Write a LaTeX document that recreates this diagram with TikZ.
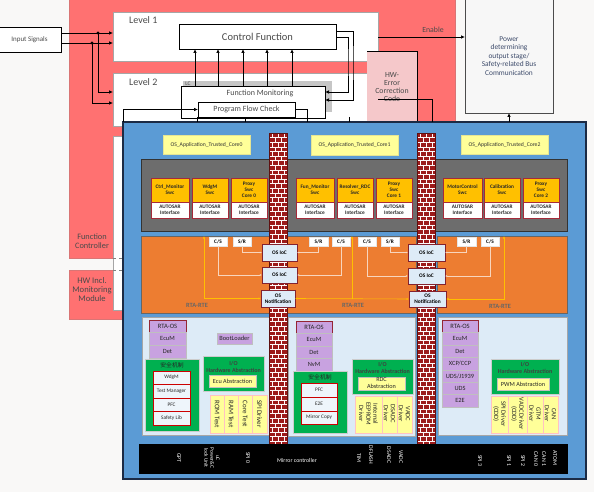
\documentclass[tikz,border=0pt]{standalone}
\usepackage{fontspec}
\setmainfont{Carlito}
\newfontfamily\cjk{Noto Sans CJK SC}
\usetikzlibrary{arrows.meta}
\definecolor{bgc}{HTML}{F9F8F7}
\definecolor{fcred}{HTML}{FF7171}
\definecolor{hwpink}{HTML}{F5C8CA}
\definecolor{blu}{HTML}{5B9BD5}
\definecolor{bluedge}{HTML}{1C2B45}
\definecolor{gpanel}{HTML}{6D6D6D}
\definecolor{swcor}{HTML}{FFC000}
\definecolor{dkred}{HTML}{A52A3A}
\definecolor{rtec}{HTML}{ED7D31}
\definecolor{bswbg}{HTML}{DDEBF7}
\definecolor{purp}{HTML}{C8A2E0}
\definecolor{grn}{HTML}{00B050}
\definecolor{ylw}{HTML}{FFFF99}
\definecolor{brickc}{HTML}{9C1A1A}
\definecolor{txtg}{HTML}{4A4A4A}
\definecolor{iocbg}{HTML}{DEEBF7}
\definecolor{lnk}{HTML}{F8D5BD}
\definecolor{sigc}{HTML}{FFC000}
\definecolor{pwrtxt}{HTML}{3C4A6A}
\newcommand\fsz[2]{\fontsize{#1}{#2}\selectfont}
\newcommand\bx[7]{\node[#2, anchor=north west, minimum width={(#5)-(#3)}, minimum height={(#6)-(#4)}] (#1) at (#3,#4) {#7};}
\newcommand\brickwall[4]{%
  \fill[brickc] (#1,#2) rectangle (#3,#4);
  \begin{scope}
  \clip (#1,#2) rectangle (#3,#4);
  \pgfmathtruncatemacro\nrows{((#4)-(#2))/4.6}
  \foreach \r in {0,...,\nrows}{%
    \pgfmathsetmacro\yy{#2+\r*4.6}
    \pgfmathsetmacro\yb{\yy+4.6}
    \pgfmathsetmacro\xo{#1+3+3*mod(\r,2)}
    \draw[mortar] (#1,\yy) -- (#3,\yy);
    \draw[mortar] (\xo,\yy) -- (\xo,\yb) (\xo+6,\yy) -- (\xo+6,\yb) (\xo+12,\yy) -- (\xo+12,\yb);
  }
  \end{scope}
  \draw[brickedge] (#1,#2) rectangle (#3,#4);}
\begin{document}
\begin{tikzpicture}[x=1pt,y=-1pt,
  b/.style={inner sep=0pt, outer sep=0pt, align=center},
  arr/.style={-{Latex[length=4pt,width=3.5pt]}, line width=0.7pt},
  ln/.style={line width=0.7pt},
  lbl/.style={align=center, inner sep=0pt, text=txtg},
  osapp/.style={b, fill=ylw, draw=ylw!80!gray, line width=0.3pt, font=\fsz{5.7}{6.5}, text=black!80},
  gpan/.style={b, fill=gpanel, draw=black!80, line width=0.6pt},
  swctop/.style={b, fill=swcor, draw=dkred, line width=0.6pt, font=\bfseries\fsz{5.3}{6.3}, text=black!85},
  swcbot/.style={b, fill=white, draw=dkred, line width=0.6pt, font=\bfseries\fsz{5.3}{6.3}, text=black!85},
  rtep/.style={b, fill=rtec, draw=black!60, line width=0.5pt},
  port/.style={b, fill=white, draw=white!80!gray, line width=0.3pt, font=\bfseries\fsz{5.3}{6}},
  ioc/.style={b, fill=iocbg, draw=dkred!80!black, line width=0.9pt, font=\bfseries\fsz{5.4}{6.2}},
  bswp/.style={b, fill=bswbg, draw=gray!70, line width=0.6pt},
  rtaos/.style={b, fill=purp, draw=dkred!90!black, line width=0.9pt, font=\fsz{6.6}{7.5}, text=black!85},
  purpb/.style={b, fill=purp, draw=gray!50, line width=0.5pt, font=\fsz{6.4}{7.2}, text=black!85},
  grnb/.style={b, fill=grn, draw=gray!40, line width=0.6pt},
  safi/.style={b, fill=bswbg!50!white, draw=red!80!black, line width=0.9pt, font=\fsz{5.3}{6}, text=black!85},
  ylwb/.style={b, fill=ylw, draw=gray!50, line width=0.4pt, font=\fsz{6.2}{7}, text=black!85},
  drvb/.style={b, fill=ylw, draw=pink!70!red!50, line width=0.8pt},
  sep/.style={draw=pink!70!red!50, line width=0.6pt},
  rot/.style={rotate=-90, align=center, inner sep=0pt, font=\fsz{7}{7.5}, text=black!85},
  rot3/.style={rotate=-90, align=center, inner sep=0pt, font=\fsz{6.5}{7.1}, text=black!85},
  hwt/.style={rotate=-90, align=center, inner sep=0pt, font=\fsz{5.8}{6.2}, text=white},
  lk/.style={draw=lnk, line width=0.6pt, -{Latex[length=2.2pt,width=2pt]}},
  sg/.style={draw=sigc, line width=0.6pt},
  mortar/.style={draw=white!90!pink, line width=0.6pt},
  brickedge/.style={draw=brickc!60!black, line width=0.6pt},
  cjkt/.style={inner sep=0pt, font=\cjk\fsz{5.8}{6.5}, text=black!85},
  ioht/.style={inner sep=0pt, align=center, font=\bfseries\fsz{6}{6.8}, text=black!75}
]
\useasboundingbox (0,0) rectangle (594,492);
\fill[bgc] (0,0) rectangle (594,492);

% function controller region
\bx{fc}{b, fill=fcred, draw=fcred!70!gray}{69}{-1}{455}{258}{}
\bx{hwm}{b, fill=fcred, draw=fcred!70!gray}{69}{270}{130}{319}{}
\node[lbl, font=\fsz{8.3}{9}] (fctxt) at (92,241.5) {Function\\Controller};
\node[lbl, font=\fsz{8.6}{8.6}] (hwtxt) at (92,289.5) {HW Incl.\\Monitoring\\Module};

% levels
\bx{lv1}{b, fill=white, draw=gray!70}{113}{12}{378}{61}{}
\node[anchor=west, inner sep=0pt, font=\fsz{10}{11}, text=txtg] (lv1t) at (129,20) {Level 1};
\bx{lv2}{b, fill=white, draw=gray!70}{113}{73}{370}{126}{}
\node[anchor=west, inner sep=0pt, font=\fsz{10}{11}, text=txtg] (lv2t) at (129,82) {Level 2};
\bx{lv3}{b, fill=white, draw=gray!70}{113}{136}{135}{310}{}
\draw[dashed, gray, line width=0.4pt] (lv3.west |- 0,258) -- (123,258);
\draw[dashed, gray, line width=0.4pt] (lv3.west |- 0,270) -- (123,270);

% HW error correction
\bx{hwe}{b, fill=hwpink}{367}{51}{417}{130}{}
\draw[ln] (hwe.north west) -- (hwe.north east) -- (hwe.south east);
\node[lbl, font=\fsz{7.8}{8.3}] (hwetxt) at (392,87) {HW-\\Error\\Correction\\Code};

% top boxes
\bx{cf}{b, fill=white, draw=black, line width=0.6pt, font=\fsz{10.5}{12}, text=txtg}{179}{24}{336}{49}{Control Function}
\bx{insig}{b, fill=white, draw=black, line width=0.6pt, font=\fsz{7}{8}, text=txtg}{-2}{27}{61}{52}{Input Signals}
\bx{lcsh}{b, fill=gray!45}{183}{81}{332}{112}{}
\node[inner sep=0pt, font=\fsz{5.5}{6}, text=txtg] (lct) at (188,83.5) {LC};
\bx{fm}{b, fill=white, draw=black, line width=0.6pt}{181}{86}{325}{118}{}
\node[inner sep=0pt, font=\fsz{8}{9}, text=txtg] (fmt) at (260,93.5) {Function Monitoring};
\bx{pfc}{b, fill=white, draw=black, line width=0.6pt, font=\fsz{8}{9}, text=txtg}{198}{102}{295}{117}{Program Flow Check}
\bx{pwr}{b, fill=gray!6, draw=black!70, line width=0.6pt}{465}{-2}{553}{113}{}
\node[inner sep=0pt, align=center, font=\fsz{7.4}{8.5}, text=pwrtxt] (pwrt) at (509,56) {Power\\determining\\output stage/\\Safety-related Bus\\Communication};

% blue ECU box
\bx{blue}{b, fill=blu, draw=bluedge, line width=1.5pt}{123}{122}{586}{479}{}

% connectors on top
\draw[arr] (insig.east |- 0,33) -- (lv1.west |- 0,33);
\draw[arr] (insig.east |- 0,43) -- (lv1.west |- 0,43);
\coordinate (d1) at (98,33);
\coordinate (d2) at (92,43);
\fill (d1) circle (1.7);
\fill (d2) circle (1.7);
\draw[arr] (d1) |- (lv2.west |- 0,92);
\draw[arr] (d2) |- (lv2.west |- 0,103);
\foreach \xx in {195,218,243,267,292}{\draw[arr] (\xx,0 |- fm.north) -- (\xx,0 |- cf.south);}
\draw[arr] (cf.east |- 0,31) -| (353,60) |- (fm.east |- 0,100);
\draw[arr] (cf.east |- 0,37) -| (348,60) |- (fm.east |- 0,92);
\draw[arr] (lv1.east |- 0,37) -- (pwr.west |- 0,37);
\node[inner sep=0pt, font=\fsz{7.8}{8.5}, text=txtg] (enab) at (433,30) {Enable};
\draw[arr] (pwr.south |- blue.north) -- (pwr.south);
\draw[ln] (pfc.east) -| (307,0 |- blue.north);
\draw[arr] (blue.north west) |- (pfc.west);
\coordinate (hwc) at (378,99);
\draw[ln] (hwc) -| (432,0 |- blue.north);
\draw[ln] (197,0 |- pfc.south) -- (197,0 |- blue.north);
\draw[ln] (245,0 |- fm.south) -- (245,0 |- blue.north);
\draw[ln] (349,117) -- (349,0 |- blue.north);

% OS applications
\bx{app0}{osapp}{163}{135}{250}{154}{OS\_Application\_Trusted\_Core0}
\bx{app1}{osapp}{311}{135}{398}{155}{OS\_Application\_Trusted\_Core1}
\bx{app2}{osapp}{461}{135}{548}{154}{OS\_Application\_Trusted\_Core2}

% SWC panels
\bx{gp0}{gpan}{141}{159}{272}{231}{}
\bx{gp1}{gpan}{287}{159}{418}{231}{}
\bx{gp2}{gpan}{434}{159}{567}{231}{}
\newcommand\swc[4]{\bx{#1}{swctop}{#2}{178}{#3}{202}{#4}\bx{#1i}{swcbot}{#2}{202}{#3}{218}{AUTOSAR\\Interface}}
\swc{ctrl}{151}{189}{Ctrl\_Monitor\\Swc}
\swc{wdgs}{192}{228}{WdgM\\Swc}
\swc{prx0}{231}{267}{Proxy\\Swc\\Core 0}
\swc{funm}{296}{334}{Fun\_Monitor\\Swc}
\swc{resv}{337}{373}{Resolver\_RDC\\Swc}
\swc{prx1}{376}{412}{Proxy\\Swc\\Core 1}
\swc{motc}{443}{482}{MotorControl\\Swc}
\swc{cali}{484}{520}{Calibration\\Swc}
\swc{prx2}{523}{559}{Proxy\\Swc\\Core 2}

% RTE
\bx{rte0}{rtep}{141}{236}{272}{313}{}
\bx{rte1}{rtep}{287}{236}{416}{313}{}
\bx{rte2}{rtep}{437}{236}{567}{313}{}
\node[inner sep=0pt, font=\bfseries\fsz{6.4}{7}, text=black!60] (rtl0) at (197,305) {RTA-RTE};
\node[inner sep=0pt, font=\bfseries\fsz{6.4}{7}, text=black!60] (rtl1) at (353,305) {RTA-RTE};
\node[inner sep=0pt, font=\bfseries\fsz{6.4}{7}, text=black!60] (rtl2) at (500,306) {RTA-RTE};
\bx{cs0}{port}{209}{237}{227}{246}{C/S}
\bx{sr0}{port}{233}{237}{251}{246}{S/R}
\bx{sr1a}{port}{309}{237}{328}{246}{S/R}
\bx{cs1a}{port}{332}{237}{350}{246}{C/S}
\bx{cs1b}{port}{358}{237}{376}{246}{C/S}
\bx{sr1b}{port}{381}{237}{399}{246}{S/R}
\bx{sr2}{port}{457}{237}{476}{246}{S/R}
\bx{cs2}{port}{481}{237}{499}{246}{C/S}

% BSW panels
\bx{bsw0}{bswp}{142}{317}{272}{435}{}
\bx{bsw1}{bswp}{288}{317}{415}{436}{}
\bx{bsw2}{bswp}{438}{317}{567}{435}{}

% walls
\brickwall{269}{133}{287}{444}
\brickwall{417}{133}{435}{444}

% IoC
\bx{ioc0a}{ioc}{262}{244}{297}{261}{OS IoC}
\bx{ioc0b}{ioc}{262}{267}{297}{283}{OS IoC}
\bx{not0}{ioc}{261}{290}{295}{307}{OS\\Notification}
\bx{ioc1a}{ioc}{408}{244}{445}{261}{OS IoC}
\bx{ioc1b}{ioc}{408}{268}{445}{284}{OS IoC}
\bx{not1}{ioc}{409}{291}{446}{307}{OS\\Notification}
\draw[lk] (sr0.south) |- (ioc0a.west);
\draw[lk] (cs0.south) |- (ioc0b.west);
\draw[lk] (sr1a.south) |- (ioc0a.east);
\draw[lk] (cs1a.south) |- (ioc0b.east);
\draw[lk] (cs1b.south) |- (ioc1b.west);
\draw[lk] (sr1b.south) |- (ioc1a.west);
\draw[lk] (sr2.south) |- (ioc1a.east);
\draw[lk] (cs2.south) |- (ioc1b.east);
\draw[sg, {Latex[length=2.5pt,width=2.2pt]}-{Latex[length=2.5pt,width=2.2pt]}] (204,0 |- rte0.north) |- (not0.west);
\draw[sg, {Latex[length=2.5pt,width=2.2pt]}-{Latex[length=2.5pt,width=2.2pt]}] (not0.east) -- (not1.west);
\coordinate (j1) at (352,0 |- not0.east);
\draw[sg, -{Latex[length=2.5pt,width=2.2pt]}] (j1) -- (352,0 |- rte1.north);
\draw[sg, {Latex[length=2.5pt,width=2.2pt]}-{Latex[length=2.5pt,width=2.2pt]}] (504,0 |- rte2.north) |- (not1.east);

% BSW core 0
\bx{os0}{rtaos}{149}{320}{186}{332}{RTA-OS}
\bx{ecum0}{purpb}{149}{332}{186}{345}{EcuM}
\bx{det0}{purpb}{149}{345}{186}{358}{Det}
\bx{boot0}{purpb}{217}{333}{252}{344}{BootLoader}
\bx{saf0}{grnb}{145}{359}{199}{431}{}
\node[cjkt] (saft0) at (172,365) {安全机制};
\bx{wdg0}{safi}{153}{371}{190}{384}{WdgM}
\bx{tm0}{safi}{153}{384}{190}{398}{Test Manager}
\bx{pfc0}{safi}{153}{398}{190}{411}{PFC}
\bx{sl0}{safi}{153}{411}{190}{425}{Safety Lib}
\bx{ioh0}{grnb}{203}{356}{264}{391}{}
\node[ioht] (ioht0) at (233.5,367) {I/O\\Hardware Abstraction};
\bx{ecua}{ylwb}{209}{375}{256}{387}{Ecu Abstraction}
\bx{drv0}{drvb}{210}{395}{267}{433}{}
\draw[sep] (224,0 |- drv0.north) -- (224,0 |- drv0.south) (238,0 |- drv0.north) -- (238,0 |- drv0.south) (252,0 |- drv0.north) -- (252,0 |- drv0.south);
\node[rot] (d0a) at (217,414) {ROM Test};
\node[rot] (d0b) at (231,414) {RAM Test};
\node[rot] (d0c) at (245,414) {Core Test};
\node[rot] (d0d) at (259.5,414) {SPI Driver};

% BSW core 1
\bx{os1}{rtaos}{296}{321}{332}{333}{RTA-OS}
\bx{ecum1}{purpb}{296}{333}{332}{346}{EcuM}
\bx{det1}{purpb}{296}{346}{332}{358}{Det}
\bx{nvm1}{purpb}{296}{358}{332}{371}{NvM}
\bx{saf1}{grnb}{293}{371}{347}{433}{}
\node[cjkt] (saft1) at (320,377.5) {安全机制};
\bx{pfc1}{safi}{301}{383}{337}{397}{PFC}
\bx{e2e1}{safi}{301}{397}{337}{411}{E2E}
\bx{mc1}{safi}{301}{411}{337}{424}{Mirror Copy}
\bx{ioh1}{grnb}{352}{359}{413}{394}{}
\node[ioht] (ioht1) at (382.5,368) {I/O\\Hardware Abstraction};
\bx{rdca}{ylwb}{358}{377}{405}{390}{RDC\\Abstraction}
\bx{drv1}{drvb}{355}{396}{412}{433}{}
\draw[sep] (382,0 |- drv1.north) -- (382,0 |- drv1.south) (397,0 |- drv1.north) -- (397,0 |- drv1.south);
\node[rot3] (d1a) at (368.5,414) {Internal\\EEPROM\\Driver};
\node[rot3] (d1b) at (389.5,414) {DSADC\\Driver};
\node[rot3] (d1c) at (404.5,414) {VADC\\Driver};

% BSW core 2
\bx{os2}{rtaos}{442}{320}{478}{332}{RTA-OS}
\bx{ecum2}{purpb}{442}{332}{478}{345}{EcuM}
\bx{det2}{purpb}{442}{345}{478}{357}{Det}
\bx{xcp2}{purpb}{442}{357}{478}{370}{XCP/CCP}
\bx{uds2a}{purpb}{442}{370}{478}{382}{UDS/J1939}
\bx{uds2}{purpb}{442}{382}{478}{394}{UDS}
\bx{e2e2}{purpb}{442}{394}{478}{407}{E2E}
\bx{ioh2}{grnb}{491}{359}{559}{394}{}
\node[ioht] (ioht2) at (525,368) {I/O\\Hardware Abstraction};
\bx{pwma}{ylwb}{497}{378}{549}{390}{PWM Abstraction}
\bx{drv2}{drvb}{491}{396}{558}{433}{}
\draw[sep] (508,0 |- drv2.north) -- (508,0 |- drv2.south) (527,0 |- drv2.north) -- (527,0 |- drv2.south) (543,0 |- drv2.north) -- (543,0 |- drv2.south);
\node[rot3] (d2a) at (499.5,414) {SPI Driver\\(CDD)};
\node[rot3] (d2b) at (517.5,414) {VADC Driver\\(CDD)};
\node[rot3] (d2c) at (535,414) {GTM\\Driver};
\node[rot3] (d2d) at (550.5,414) {CAN\\Driver};

% hardware bar
\bx{hwbar}{b, fill=black}{139}{444}{568}{474}{}
\node[hwt] (h1) at (179,458) {GPT};
\node[hwt, font=\fsz{5.4}{5.8}] (h2) at (212,458) {uC\\Power\&C\\lock Unit};
\node[hwt] (h3) at (248,458) {SPI 0};
\node[inner sep=0pt, font=\fsz{5.8}{6.2}, text=white] (h4) at (297,461) {Mirror controller};
\node[hwt] (h5) at (359,458) {TIM};
\node[hwt] (h6) at (371,455) {DFLASH};
\node[hwt] (h7) at (389,455) {DSADC};
\node[hwt] (h8) at (401,457) {VADC};
\node[hwt] (h9) at (480,461) {SPI 3};
\node[hwt] (h10) at (509,461) {SPI 1};
\node[hwt] (h11) at (523,461) {SPI 2};
\node[hwt] (h12) at (536,459) {CAN 0};
\node[hwt] (h13) at (544,459) {CAN 1};
\node[hwt] (h14) at (555,458) {ATOM};
\end{tikzpicture}
\end{document}
